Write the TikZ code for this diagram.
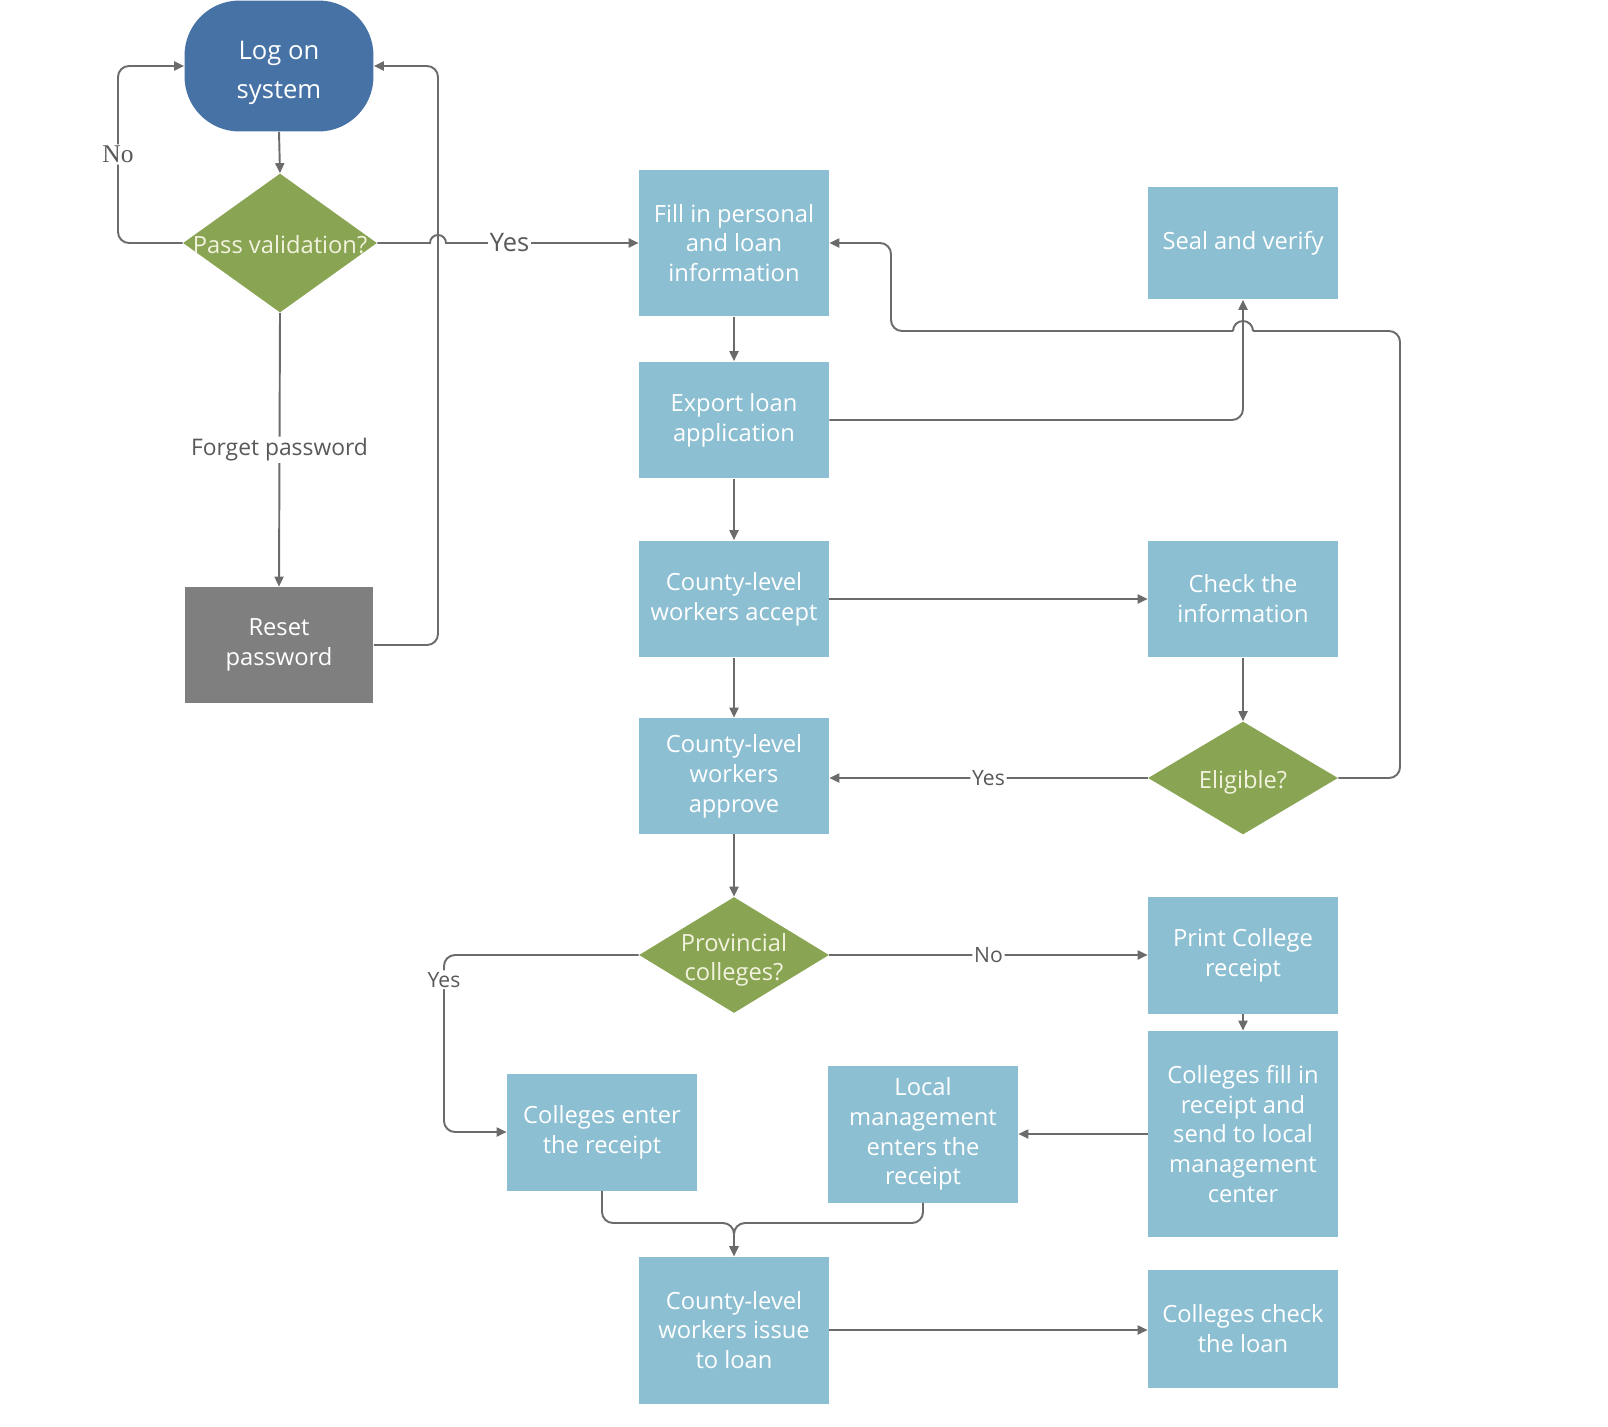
\documentclass[tikz,border=0pt]{standalone}
\usepackage{fontspec}
\setmainfont{Open Sans}
\newfontfamily\serifnote{Liberation Serif}
\usepackage{xcolor}
\usetikzlibrary{shapes.geometric,arrows.meta}

\definecolor{procblue}{HTML}{8DBFD3}
\definecolor{decgreen}{HTML}{89A453}
\definecolor{dectext}{HTML}{F2F3DE}
\definecolor{startblue}{HTML}{4672A5}
\definecolor{resetgray}{HTML}{7F7F7F}
\definecolor{linegray}{HTML}{6B6B6B}
\definecolor{labelgray}{HTML}{595959}

% diamond text that does not widen the diamond
\newcommand{\dtext}[1]{\raisebox{-0.1cm}[\height][\depth]{\makebox[0pt]{\begin{tabular}{@{}c@{}}#1\end{tabular}}}}

\begin{document}
\begin{tikzpicture}[x=0.02cm, y=-0.02cm,
    proc/.style={rectangle, fill=procblue, text=white, align=center, minimum width=3.8cm, inner sep=0pt, font=\fontsize{13.5}{17}\selectfont},
    decision/.style={diamond, fill=decgreen, text=dectext, minimum width=3.8cm, inner sep=0pt, font=\fontsize{13.5}{17}\selectfont},
    startbox/.style={rectangle, rounded corners=1.1cm, fill=startblue, text=white, align=center, minimum width=3.78cm, minimum height=2.62cm, font=\fontsize{14.6}{22}\selectfont},
    resetbox/.style={rectangle, fill=resetgray, text=white, align=center, minimum width=3.78cm, minimum height=2.32cm, font=\fontsize{13.5}{17}\selectfont},
    line/.style={draw=linegray, line width=1.1pt, rounded corners=0.22cm},
    arr/.style={line, -{Triangle[length=0.2cm, width=0.18cm]}},
    lbl/.style={fill=white, text=labelgray, inner sep=1pt, font=\fontsize{12}{14}\selectfont}]

    \useasboundingbox (0,0) rectangle (1608,1426);

    % login part
    \node[startbox] (logon) at (279,66) {\raisebox{-0.1cm}[\height][\depth]{\begin{tabular}{@{}c@{}}Log on\\system\end{tabular}}};
    \node[decision, minimum height=2.78cm, minimum width=3.88cm] (pass) at (280,243) {\dtext{Pass validation?}};
    \node[resetbox] (reset) at (279,645) {Reset\\password};

    % main column
    \node[proc, minimum height=2.94cm] (fill) at (734,243) {Fill in personal\\and loan\\information};
    \node[proc, minimum height=2.34cm] (export) at (734,420) {Export loan\\application};
    \node[proc, minimum height=2.34cm] (accept) at (734,599) {County-level\\workers accept};
    \node[proc, minimum height=2.32cm] (approve) at (734,776) {County-level\\workers\\approve};
    \node[decision, minimum height=2.32cm] (prov) at (734,955) {\dtext{Provincial\\colleges?}};
    \node[proc, minimum height=2.94cm] (issue) at (734,1330) {County-level\\workers issue\\to loan};

    % right column
    \node[proc, minimum height=2.26cm] (seal) at (1243,243) {Seal and verify};
    \node[proc, minimum height=2.34cm] (check) at (1243,599) {Check the\\information};
    \node[decision, minimum height=2.26cm] (elig) at (1243,778) {\dtext{Eligible?}};
    \node[proc, minimum height=2.34cm] (print) at (1243,955) {Print College\\receipt};
    \node[proc, minimum height=4.12cm] (collfill) at (1243,1134) {Colleges fill in\\receipt and\\send to local\\management\\center};
    \node[proc, minimum height=2.36cm] (collcheck) at (1243,1329) {Colleges check\\the loan};

    % receipt row
    \node[proc, minimum height=2.34cm] (enter) at (602,1132) {Colleges enter\\the receipt};
    \node[proc, minimum height=2.74cm] (local) at (923,1134) {Local\\management\\enters the\\receipt};

    % login connectors
    \draw[arr] (logon.south) -- (pass.north);
    \draw[arr] (pass.west) -- (118,243) -- node[lbl, font=\serifnote\fontsize{14.5}{16}\selectfont] (nolbl) {No} (118,66) -- (logon.west);
    \draw[arr] (pass.south) -- node[lbl, font=\fontsize{13}{15}\selectfont] (forget) {Forget password} (reset.north);
    \draw[arr] (reset.east) -- (438,645) -- (438,66) -- (logon.east);
    \draw[arr, sharp corners] (pass.east) -- (430,243) arc[start angle=180, end angle=360, radius=8] -- node[lbl, pos=0.33, font=\fontsize{14.5}{16}\selectfont] (yes1) {Yes} (fill.west);

    % main connectors
    \draw[arr] (fill.south) -- (export.north);
    \draw[arr] (export.south) -- (accept.north);
    \draw[arr] (accept.south) -- (approve.north);
    \draw[arr] (approve.south) -- (prov.north);
    \draw[arr] (export.east) -- (1243,420) -- (seal.south);
    \draw[arr] (accept.east) -- (check.west);
    \draw[arr] (check.south) -- (elig.north);
    \draw[arr] (elig.west) -- node[lbl] (yes2) {Yes} (elig.west -| approve.east);
    \draw[line] (elig.east) -- (1400,778) -- (1400,331) -- (1253,331);
    \draw[line, sharp corners] (1253,331) arc[start angle=0, end angle=-180, radius=10];
    \draw[arr] (1233,331) -- (891,331) -- (891,243) -- (fill.east);

    % receipt connectors
    \draw[arr] (prov.east) -- node[lbl] (no2) {No} (print.west);
    \draw[arr] (prov.west) -- (444,955) -- node[lbl, pos=0.14] (yes3) {Yes} (444,1132) -- (enter.west);
    \draw[arr] (print.south) -- (collfill.north);
    \draw[arr] (collfill.west) -- (collfill.west -| local.east);
    \draw[arr] (enter.south) -- (602,1223) -- (734,1223) -- (issue.north);
    \draw[arr] (local.south) -- (923,1223) -- (734,1223) -- (issue.north);
    \draw[arr] (issue.east) -- (issue.east -| collcheck.west);
\end{tikzpicture}
\end{document}
